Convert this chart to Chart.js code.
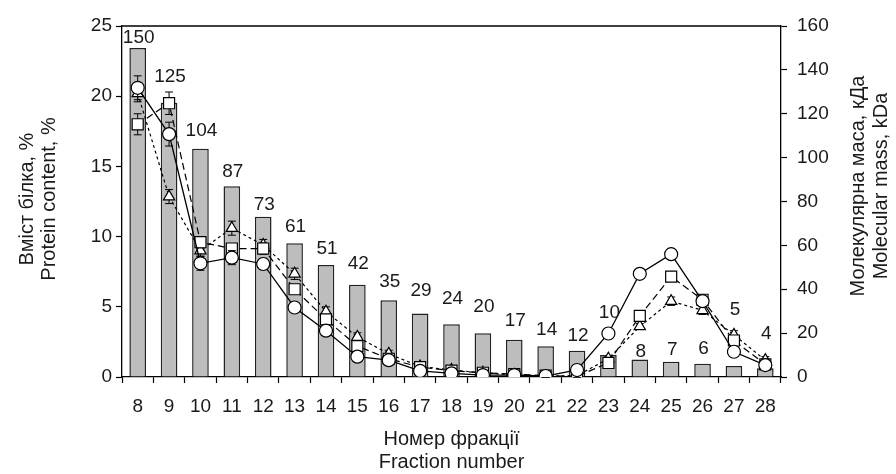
<!DOCTYPE html>
<html>
<head>
<meta charset="utf-8">
<script src="https://cdn.jsdelivr.net/npm/chart.js@4/dist/chart.umd.min.js"></script>
<style>
  html, body { margin: 0; padding: 0; background: #fff; }
  canvas { display: block; }
</style>
</head>
<body>
<canvas id="chart" width="896" height="474"></canvas>
<script>
// Fraction numbers along the bottom axis
const fractions = ['8','9','10','11','12','13','14','15','16','17','18','19','20','21','22','23','24','25','26','27','28'];

// Molecular mass of each fraction, kDa (bars, right axis)
const molecularMass = [150,125,104,87,73,61,51,42,35,29,24,20,17,14,12,10,8,7,6,5,4];

// Protein content, % (left axis) with standard deviations
const proteinCircle   = [20.6,17.3,8.1,8.5,8.05,4.95,3.3,1.45,1.2,0.43,0.26,0.14,0.14,0.07,0.5,3.1,7.35,8.75,5.4,1.8,0.85];
const circleErr       = [0.85,0.85,0.5,0.5,0.4,0.2,0.2,0.15,0.2,0.1,0.1,0.1,0.1,0.1,0.1,0.2,0.2,0.35,0.3,0.2,0.15];
const proteinSquare   = [18.0,19.5,9.6,9.15,9.15,6.25,4.1,2.2,1.3,0.7,0.45,0.3,0.2,0.1,0.05,1.0,4.35,7.15,5.5,2.6,0.9];
const squareErr       = [0.75,0.8,0.4,0.3,0.4,0.3,0.25,0.2,0.2,0.15,0.1,0.1,0.1,0.1,0.1,0.15,0.2,0.3,0.3,0.3,0.2];
const proteinTriangle = [20.2,12.85,9.0,10.6,9.4,7.35,4.65,2.85,1.65,0.75,0.5,0.3,0.15,0.05,0.1,1.3,3.6,5.4,4.75,3.0,1.2];
const triangleErr     = [0.6,0.5,0.4,0.5,0.4,0.4,0.35,0.3,0.25,0.2,0.15,0.1,0.1,0.1,0.1,0.15,0.2,0.3,0.3,0.3,0.25];

// Gap in px between each bar top and its value label
const labelGap = [5,21,13,9,7,11,11,16,13,17,20,21,14,11,10,37,2,7,10,51,29];

const FONT = '"Liberation Sans", Arial, sans-serif';
const INK = '#1a1a1a';

const decorations = {
  id: 'decorations',
  beforeDatasetDraw(chart, args) {
    const ds = chart.data.datasets[args.index];
    if (!ds.errors) return;
    const ctx = chart.ctx;
    const scale = chart.scales[ds.yAxisID];
    ctx.save();
    ctx.strokeStyle = '#000';
    ctx.lineWidth = 1;
    ctx.setLineDash([]);
    args.meta.data.forEach((pt, i) => {
      const v = ds.data[i], e = ds.errors[i];
      const yt = scale.getPixelForValue(v + e);
      const yb = scale.getPixelForValue(Math.max(0, v - e));
      ctx.beginPath();
      ctx.moveTo(pt.x, yt); ctx.lineTo(pt.x, yb);
      ctx.moveTo(pt.x - 4, yt); ctx.lineTo(pt.x + 4, yt);
      ctx.moveTo(pt.x - 4, yb); ctx.lineTo(pt.x + 4, yb);
      ctx.stroke();
    });
    ctx.restore();
  },
  afterDraw(chart) {
    const ctx = chart.ctx;
    const a = chart.chartArea;
    ctx.save();
    // top frame line
    ctx.strokeStyle = '#000';
    ctx.lineWidth = 1.3;
    ctx.beginPath();
    ctx.moveTo(a.left, a.top); ctx.lineTo(a.right, a.top);
    ctx.stroke();

    // value labels above bars
    const barMeta = chart.getDatasetMeta(3);
    ctx.fillStyle = INK;
    ctx.font = '19px ' + FONT;
    ctx.textAlign = 'center';
    ctx.textBaseline = 'alphabetic';
    barMeta.data.forEach((bar, i) => {
      ctx.fillText(String(molecularMass[i]), bar.x + 1, bar.y - labelGap[i]);
    });

    // axis titles
    ctx.font = '20px ' + FONT;
    const cx = (a.left + a.right) / 2;
    ctx.fillText('Номер фракції', cx, 445);
    ctx.fillText('Fraction number', cx, 468);

    const rot = (text, x, y) => {
      ctx.save();
      ctx.translate(x, y);
      ctx.rotate(-Math.PI / 2);
      ctx.fillText(text, 0, 0);
      ctx.restore();
    };
    rot('Вміст білка, %', 33, 199);
    rot('Protein content, %', 55, 199);
    rot('Молекулярна маса, кДа', 864, 186);
    rot('Molecular mass, kDa', 887, 186);
    ctx.restore();
  }
};

const tickFont = { family: FONT, size: 19 };

new Chart(document.getElementById('chart'), {
  data: {
    labels: fractions,
    datasets: [
      {
        type: 'line', label: 'Series 1', data: proteinCircle, errors: circleErr, yAxisID: 'y', order: 0,
        borderColor: '#000', borderWidth: 1.3, pointStyle: 'circle', pointRadius: 6.5,
        pointBackgroundColor: '#fff', pointBorderColor: '#000', pointBorderWidth: 1.2, tension: 0
      },
      {
        type: 'line', label: 'Series 2', data: proteinSquare, errors: squareErr, yAxisID: 'y', order: 1,
        borderColor: '#000', borderWidth: 1.2, borderDash: [7, 4], pointStyle: 'rect', pointRadius: 7.8,
        pointBackgroundColor: '#fff', pointBorderColor: '#000', pointBorderWidth: 1.2, tension: 0
      },
      {
        type: 'line', label: 'Series 3', data: proteinTriangle, errors: triangleErr, yAxisID: 'y', order: 2,
        borderColor: '#000', borderWidth: 1.2, borderDash: [3, 3], pointStyle: 'triangle', pointRadius: 6.5,
        pointBackgroundColor: '#fff', pointBorderColor: '#000', pointBorderWidth: 1.2, tension: 0
      },
      {
        type: 'bar', label: 'Molecular mass', data: molecularMass, yAxisID: 'y2', order: 3,
        backgroundColor: '#bdbdbd', borderColor: '#222', borderWidth: 1.5,
        categoryPercentage: 1, barPercentage: 0.53
      }
    ]
  },
  options: {
    responsive: false,
    animation: false,
    layout: { padding: { top: 26, left: 0, right: 0, bottom: 0 } },
    plugins: { legend: { display: false }, tooltip: { enabled: false } },
    scales: {
      x: {
        type: 'category', position: 'bottom', offset: true,
        grid: { offset: true, drawOnChartArea: false, tickLength: 6, color: '#000', tickWidth: 1.2 },
        border: { color: '#000', width: 1.3 },
        ticks: { font: tickFont, color: INK, padding: 12, maxRotation: 0, autoSkip: false },
        afterFit(s) { s.height = 97; }
      },
      y: {
        position: 'left', min: 0, max: 25,
        grid: { drawOnChartArea: false, tickLength: 6, color: '#000', tickWidth: 1.2 },
        border: { color: '#000', width: 1.3 },
        ticks: { stepSize: 5, font: tickFont, color: INK, padding: 4 },
        afterFit(s) { s.width = 122; }
      },
      y2: {
        position: 'right', min: 0, max: 160,
        grid: { drawOnChartArea: false, tickLength: 6, color: '#000', tickWidth: 1.2 },
        border: { color: '#000', width: 1.3 },
        ticks: { stepSize: 20, font: tickFont, color: INK, padding: 10 },
        afterFit(s) { s.width = 115; }
      }
    }
  },
  plugins: [decorations]
});
</script>
</body>
</html>
